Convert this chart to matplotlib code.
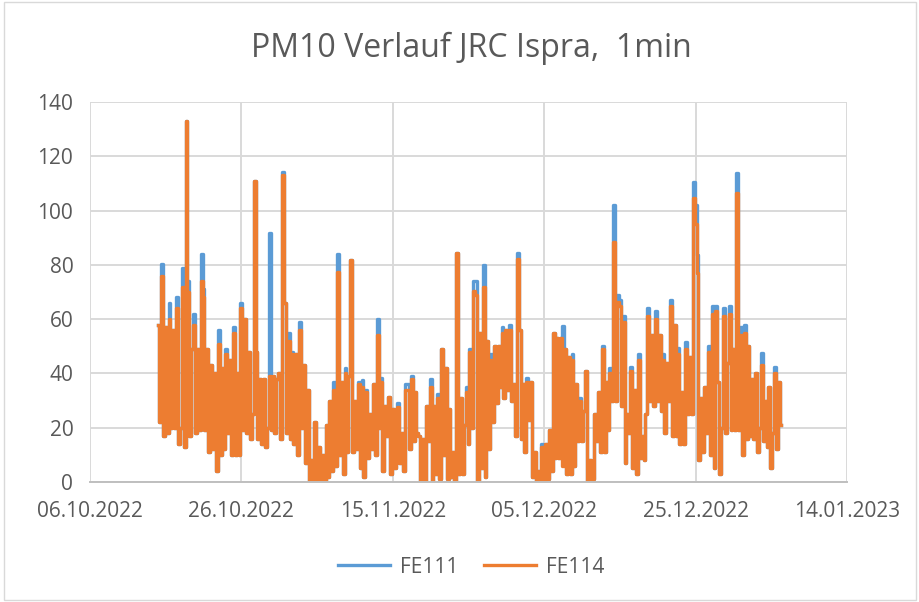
import numpy as np
import pandas as pd
import matplotlib
matplotlib.use("Agg")
import matplotlib.pyplot as plt
import matplotlib.dates as mdates
from matplotlib.patches import Rectangle

# PM10 Werte FE114 (6h-Raster, ab 15.10.2022 00:00), je Zeile ein Tag
fe114_values = [
    58, 22, 76, 17,      # 15.10
    57, 18, 60, 20,
    56, 20, 64, 14,
    20, 72, 13, 133,
    70, 17, 49, 58,
    18, 49, 19, 74,      # 20.10
    68, 19, 49, 11,
    43, 12, 40, 4,
    51, 10, 42, 12,
    47, 18, 45, 10,
    55, 10, 40, 10,      # 25.10
    64, 19, 60, 18,
    48, 16, 25, 111,
    48, 16, 38, 14,
    38, 13, 20, 39,
    19, 39, 18, 38,      # 30.10
    40, 16, 113, 66,
    18, 52, 16, 47,
    14, 47, 10, 56,
    20, 43, 7, 34,
    0, 8, 0, 22,         # 04.11
    0, 13, 0, 10,
    0, 21, 2, 30,
    4, 34, 6, 77.5,
    10, 37, 3, 40,
    11, 39, 81.8, 11,    # 09.11
    30, 12, 36, 5,
    35, 2, 33, 9,
    25, 12, 36, 10,
    54, 20, 37, 4,
    28, 17, 31.5, 3,     # 14.11
    27, 5, 24, 27.6,
    7, 18, 4, 34,
    34, 12, 38, 15,
    33, 18, 17, 0,
    16, 0, 28, 15,       # 19.11
    35, 0, 28, 3,
    31, 1, 49, 10,
    42, 1, 27, 2,
    11, 0, 84.3, 3,
    31, 3, 21, 33,       # 24.11
    14, 48, 20, 70.5,
    69, 0, 55, 5,
    72, 2, 52, 12,
    45, 22, 50, 29,
    50, 35, 55, 31,      # 29.11
    56, 34, 56, 30,
    36, 17, 82, 56,
    16, 36, 11, 37,
    23, 37, 2, 11,
    0, 4, 0, 13,         # 04.12
    0, 14, 1, 19,
    4, 55, 9, 53,
    9, 53, 6, 49,
    3, 46, 3, 45,
    6, 36, 15, 30,       # 09.12
    15, 26, 41, 0,
    8, 0, 1, 25,
    15, 33, 11, 49,
    11, 37, 19, 40,
    30, 88.5, 30, 66.5,  # 14.12
    65, 28, 59, 7,
    25, 18, 41, 5,
    34, 3, 45, 9,
    17, 8, 25, 61,
    30, 54, 28, 60,      # 19.12
    30, 54, 26, 45,
    18, 44, 30, 65,
    17, 58, 17, 47,
    14, 33, 14, 49,
    25, 46, 25, 104.5,   # 24.12
    95, 77, 8, 31,
    11, 35, 18, 48,
    10, 62, 5, 63,
    37, 3, 20, 61,
    18, 44, 62, 19,      # 29.12
    49, 19, 106.5, 19,
    54, 10, 55, 16,
    50, 17, 38, 16,
    40, 11, 20, 43,
    15, 30, 13, 35,      # 03.01
    5, 18, 40, 12,
    37, 21,
]

# FE111 ist fast gleich, nur an den Spitzen hoeher
fe111_peaks = {
    "2022-10-15 12:00": 80.5, "2022-10-16 12:00": 66, "2022-10-17 12:00": 68,
    "2022-10-18 06:00": 79, "2022-10-19 00:00": 74, "2022-10-19 18:00": 62,
    "2022-10-20 18:00": 84, "2022-10-21 00:00": 71, "2022-10-23 00:00": 56,
    "2022-10-24 00:00": 49, "2022-10-25 00:00": 57, "2022-10-26 00:00": 66,
    "2022-10-29 18:00": 91.7, "2022-10-31 12:00": 114.3, "2022-11-01 06:00": 55,
    "2022-11-01 18:00": 48, "2022-11-02 18:00": 59, "2022-11-07 06:00": 37,
    "2022-11-07 18:00": 84, "2022-11-08 18:00": 42, "2022-11-10 12:00": 37,
    "2022-11-11 00:00": 37.5, "2022-11-11 12:00": 34, "2022-11-13 00:00": 60,
    "2022-11-13 12:00": 38.5, "2022-11-15 18:00": 29, "2022-11-16 18:00": 36,
    "2022-11-17 00:00": 36, "2022-11-17 12:00": 39, "2022-11-20 00:00": 38,
    "2022-11-21 00:00": 32.5, "2022-11-24 18:00": 35, "2022-11-25 06:00": 49,
    "2022-11-25 18:00": 74, "2022-11-26 00:00": 74, "2022-11-27 00:00": 79.8,
    "2022-11-28 00:00": 47, "2022-11-29 12:00": 57, "2022-11-30 12:00": 58,
    "2022-12-01 12:00": 84.2, "2022-12-02 18:00": 38.5, "2022-12-04 18:00": 14,
    "2022-12-07 12:00": 57.4, "2022-12-08 18:00": 47, "2022-12-09 18:00": 31,
    "2022-12-12 18:00": 50, "2022-12-13 18:00": 42, "2022-12-14 06:00": 102,
    "2022-12-14 18:00": 69, "2022-12-15 00:00": 67, "2022-12-15 12:00": 61,
    "2022-12-16 12:00": 42.5, "2022-12-17 12:00": 47, "2022-12-18 18:00": 64,
    "2022-12-19 18:00": 63, "2022-12-20 18:00": 47, "2022-12-21 18:00": 67,
    "2022-12-22 18:00": 49.5, "2022-12-23 18:00": 51.5, "2022-12-24 18:00": 110.6,
    "2022-12-25 00:00": 102, "2022-12-25 06:00": 83.5, "2022-12-26 18:00": 50,
    "2022-12-27 06:00": 65, "2022-12-27 18:00": 65, "2022-12-28 18:00": 64,
    "2022-12-29 12:00": 65, "2022-12-30 12:00": 114, "2022-12-31 00:00": 57,
    "2022-12-31 12:00": 58, "2023-01-02 18:00": 47.5, "2023-01-04 12:00": 42.5,
}

tick_dates = ["2022-10-06", "2022-10-26", "2022-11-15", "2022-12-05", "2022-12-25", "2023-01-14"]
y_ticks = [0, 20, 40, 60, 80, 100, 120, 140]

zeit = pd.date_range("2022-10-15 00:00", periods=len(fe114_values), freq="6h")
fe114 = pd.Series(fe114_values, index=zeit, dtype=float)
fe111 = fe114.copy()
for t, v in fe111_peaks.items():
    fe111[pd.Timestamp(t)] = v

plt.rcParams['font.family'] = ['Open Sans', 'DejaVu Sans']
grau = '#595959'

fig = plt.figure(figsize=(9.2, 6.02), dpi=100)
ax = fig.add_axes([0.0978, 0.1993, 0.8228, 0.6312])

# 1-min Daten sehen gestaucht wie senkrechte Striche aus -> steps
ax.plot(fe111.index, fe111.values, color='#5B9BD5', lw=2.4, label='FE111', drawstyle='steps-mid')
ax.plot(fe114.index, fe114.values, color='#ED7D31', lw=2.4, label='FE114', drawstyle='steps-mid')

ticks = pd.to_datetime(tick_dates)
ax.set_xlim(ticks[0], ticks[-1])
ax.set_xticks(ticks)
ax.xaxis.set_major_formatter(mdates.DateFormatter('%d.%m.%Y'))
ax.set_ylim(0, 140)
ax.set_yticks(y_ticks)

ax.grid(True, color='#d9d9d9', lw=1.4)
ax.set_axisbelow(True)
for s in ['top', 'right', 'left']:
    ax.spines[s].set_visible(False)
ax.spines['bottom'].set_color('#bfbfbf')
ax.spines['bottom'].set_linewidth(1.4)
ax.tick_params(length=0, labelsize=15, colors=grau)
ax.tick_params(axis='x', pad=14)
ax.tick_params(axis='y', pad=12)

fig.suptitle('PM10 Verlauf JRC Ispra,  1min', x=0.512, y=0.947, fontsize=23, color=grau)

fig.legend(loc='center', bbox_to_anchor=(0.512, 0.058), ncol=2, frameon=False,
           fontsize=15, labelcolor=grau, handlelength=2.5, columnspacing=1.2, handletextpad=0.5)

fig.add_artist(Rectangle((0.004, 0.004), 0.992, 0.992, transform=fig.transFigure,
                         fill=False, edgecolor='#d9d9d9', lw=1))

fig.savefig('out.png', dpi=100)
